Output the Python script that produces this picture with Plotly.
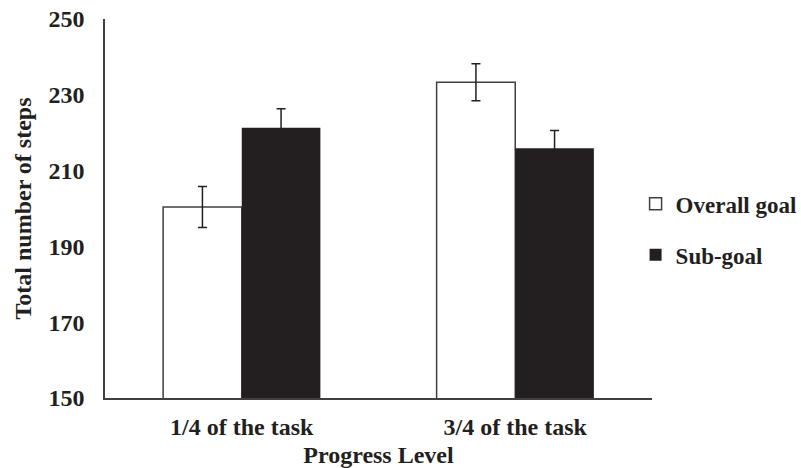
import plotly.graph_objects as go

# Mean total steps per progress level, with error-bar half widths
categories = ["1/4 of the task", "3/4 of the task"]
overall_goal = [200.4, 233.3]
overall_goal_err = [5.4, 4.9]
sub_goal = [221.3, 215.9]
sub_goal_err = [5.0, 4.7]

y_ticks = [150, 170, 190, 210, 230, 250]

INK = "#231f20"
FONT = "Liberation Serif, Times New Roman, serif"
SIZE = 24

fig = go.Figure()
fig.add_trace(go.Bar(
    name="<b>Overall goal</b>", x=categories, y=overall_goal, legendgroup="a",
    marker=dict(color="white", line=dict(color="#404040", width=1.5)),
    error_y=dict(type="data", array=overall_goal_err, color=INK, thickness=1.5, width=4.5),
))
fig.add_trace(go.Bar(
    name="<b>Sub-goal</b>", x=categories, y=sub_goal, legendgroup="b",
    marker=dict(color=INK, line=dict(color=INK, width=0)),
    error_y=dict(type="data", array=sub_goal_err, color=INK, thickness=1.5, width=4.5),
))

fig.update_layout(
    width=801, height=468,
    margin=dict(l=105, r=149, t=19, b=70, autoexpand=False),
    paper_bgcolor="white", plot_bgcolor="white",
    barmode="group", bargap=0.425, bargroupgap=0,
    font=dict(family=FONT, size=SIZE, color=INK),
    showlegend=True,
    legend=dict(
        x=0.97, xanchor="left", y=0.445, yanchor="middle",
        font=dict(family=FONT, size=23, color=INK),
        tracegroupgap=18, traceorder="grouped",
        itemwidth=30, bgcolor="rgba(0,0,0,0)",
    ),
    xaxis=dict(
        showline=True, linecolor="#404040", linewidth=1.5,
        ticks="", showgrid=False, ticklabelstandoff=6,
        title=dict(text="<b>Progress Level</b>", standoff=11,
                   font=dict(family=FONT, size=SIZE, color=INK)),
        tickfont=dict(family=FONT, size=SIZE, color=INK),
        tickprefix="<b>", ticksuffix="</b>",
    ),
    yaxis=dict(
        range=[150, 250], tickvals=y_ticks,
        ticktext=[f"<b>{v}</b>" for v in y_ticks],
        showline=True, linecolor="#404040", linewidth=1.5,
        ticks="", showgrid=False, zeroline=False,
        ticklabelstandoff=14,
        title=dict(text="<b>Total number of steps</b>", standoff=10,
                   font=dict(family=FONT, size=SIZE, color=INK)),
        tickfont=dict(family=FONT, size=SIZE, color=INK),
    ),
)

fig.write_html("out.html")
